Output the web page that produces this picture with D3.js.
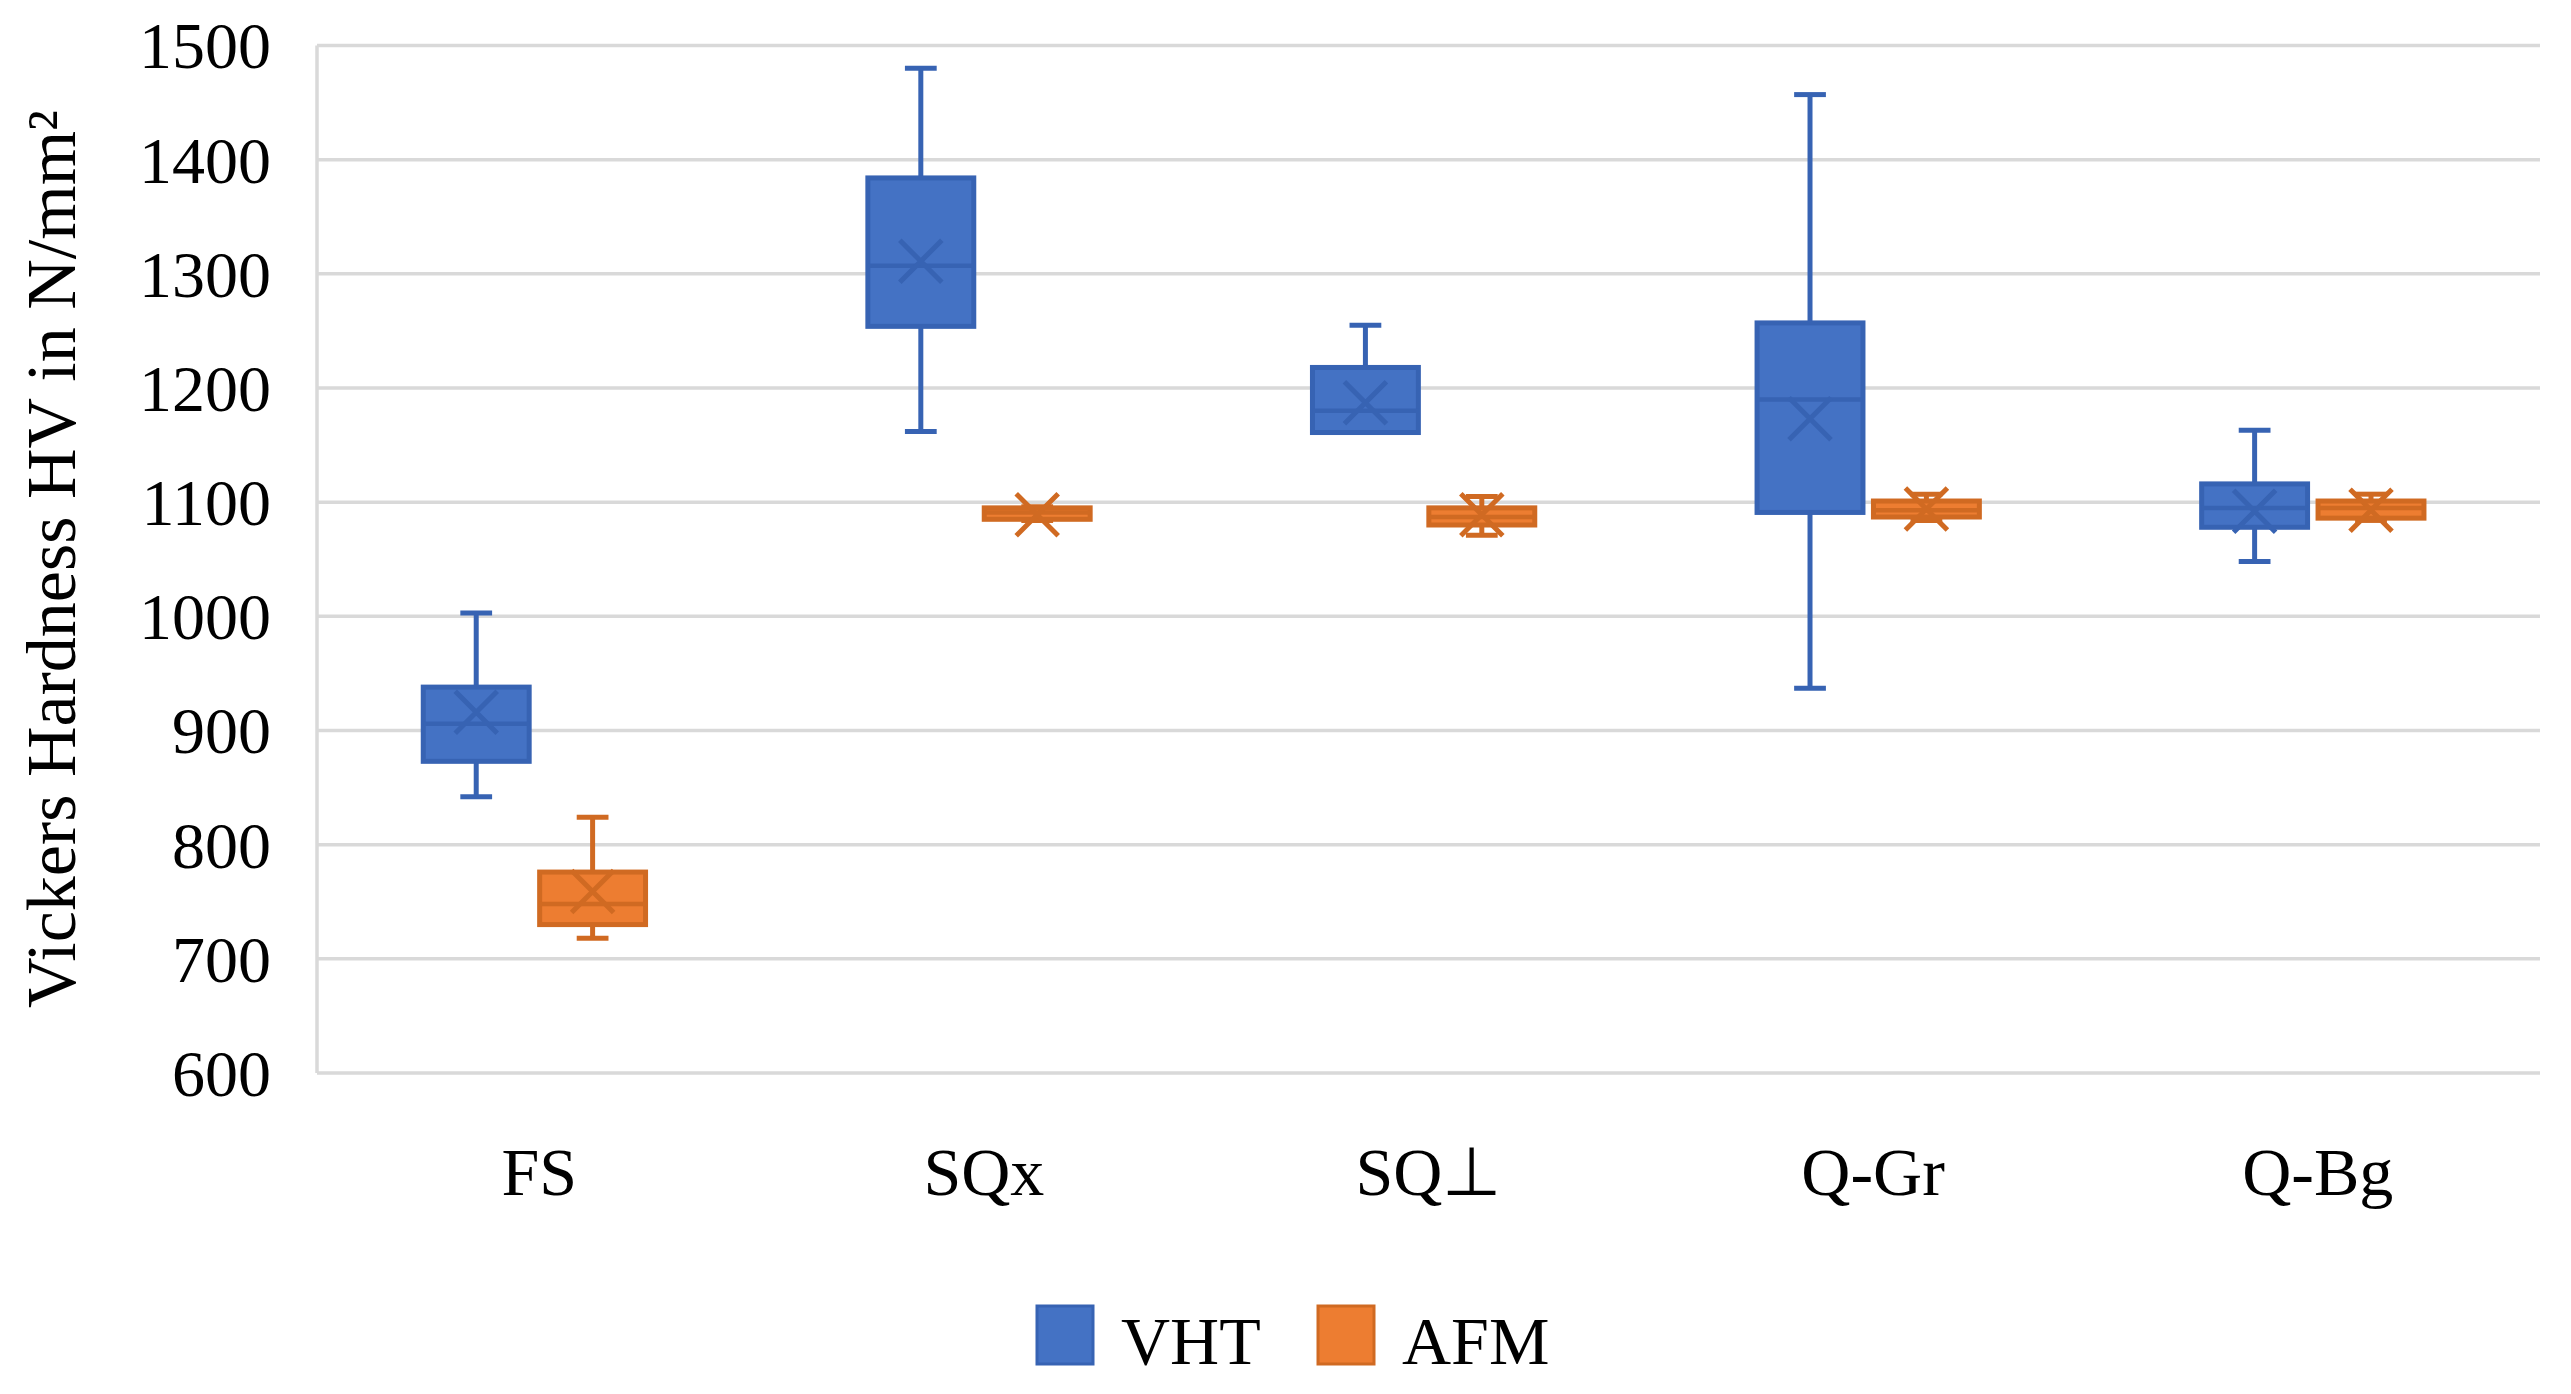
<!DOCTYPE html>
<html>
<head>
<meta charset="utf-8">
<script src="https://cdn.jsdelivr.net/npm/d3@7"></script>
<style>
  body { margin: 0; background: #fff; }
  svg { display: block; }
</style>
</head>
<body>
<svg width="2571" height="1394"></svg>
<script>
const categories = ["FS", "SQx", "SQ\u22A5", "Q-Gr", "Q-Bg"];
const series = ["VHT", "AFM"];

// VHT boxes
const vhtMin    = [842, 1162, 1161, 937, 1048];
const vhtQ1     = [873, 1254, 1161, 1091, 1078];
const vhtMedian = [906, 1307, 1180, 1190, 1095];
const vhtQ3     = [938, 1384, 1218, 1257, 1116];
const vhtMax    = [1003, 1480, 1255, 1457, 1163];
const vhtMean   = [916, 1311, 1187, 1173, 1092];

// AFM boxes
const afmMin    = [718, 1084, 1071, 1084, 1084];
const afmQ1     = [730, 1085, 1080, 1087, 1086];
const afmMedian = [748, 1091, 1087, 1093, 1095];
const afmQ3     = [776, 1095, 1095, 1101, 1101];
const afmMax    = [824, 1096, 1105, 1107, 1107];
const afmMean   = [759, 1089, 1089, 1094, 1093];

const yTicks = [600, 700, 800, 900, 1000, 1100, 1200, 1300, 1400, 1500];

const fills = { VHT: "#4472C4", AFM: "#ED7D31" };
const strokes = { VHT: "#3763B3", AFM: "#D06A22" };
const font = "'Liberation Serif', 'Times New Roman', serif";

const svg = d3.select("svg");

const plotLeft = 317, plotRight = 2540, plotTop = 45.5, plotBottom = 1073;

const y = d3.scaleLinear().domain([600, 1500]).range([plotBottom, plotTop]);
const x0 = d3.scaleBand().domain(categories).range([plotLeft, plotRight]);
const step = x0.step();
// Excel puts the pair slightly left of the category centre
const x1 = d3.scaleBand().domain(series)
    .range([-0.261 * step, 0.239 * step])
    .paddingInner(0.09);

// gridlines
svg.append("g")
    .selectAll("line")
    .data(yTicks)
    .enter().append("line")
    .attr("x1", plotLeft).attr("x2", plotRight)
    .attr("y1", d => y(d)).attr("y2", d => y(d))
    .attr("stroke", "#D9D9D9")
    .attr("stroke-width", 3.5);

svg.append("line")
    .attr("x1", plotLeft).attr("x2", plotLeft)
    .attr("y1", y(1500)).attr("y2", y(600))
    .attr("stroke", "#D9D9D9")
    .attr("stroke-width", 3.5);

// y axis labels
const yAxis = svg.append("g")
    .attr("transform", `translate(${plotLeft - 46},0)`)
    .call(d3.axisLeft(y).tickValues(yTicks).tickFormat(d3.format("d")).tickSize(0).tickPadding(0));
yAxis.select(".domain").remove();
yAxis.selectAll("text")
    .attr("font-family", font)
    .attr("font-size", 66)
    .attr("fill", "#000")
    .attr("dy", "0.34em");

// x axis labels
const xAxis = svg.append("g")
    .attr("transform", `translate(0,${plotBottom})`)
    .call(d3.axisBottom(x0).tickSize(0).tickPadding(0));
xAxis.select(".domain").remove();
xAxis.selectAll("text")
    .attr("font-family", font)
    .attr("font-size", 68)
    .attr("fill", "#000")
    .attr("y", 122)
    .attr("dy", 0);

// y title
svg.append("text")
    .attr("transform", `translate(75,559) rotate(-90)`)
    .attr("text-anchor", "middle")
    .attr("font-family", font)
    .attr("font-size", 70)
    .attr("fill", "#000")
    .text("Vickers Hardness HV in N/mm\u00B2");

// box data
const boxes = [];
categories.forEach((c, i) => {
    boxes.push({ cat: c, s: "VHT", min: vhtMin[i], q1: vhtQ1[i], med: vhtMedian[i], q3: vhtQ3[i], max: vhtMax[i], mean: vhtMean[i] });
    boxes.push({ cat: c, s: "AFM", min: afmMin[i], q1: afmQ1[i], med: afmMedian[i], q3: afmQ3[i], max: afmMax[i], mean: afmMean[i] });
});

const bw = x1.bandwidth();
const capW = bw * 0.3;
const xm = 21;
const lw = 5;

const g = svg.selectAll(".box")
    .data(boxes)
    .enter().append("g")
    .attr("class", "box")
    .attr("transform", d => `translate(${x0(d.cat) + step / 2 + x1(d.s)},0)`);

// whiskers
g.append("line")
    .attr("x1", bw / 2).attr("x2", bw / 2)
    .attr("y1", d => y(d.max)).attr("y2", d => y(d.q3))
    .attr("stroke", d => strokes[d.s]).attr("stroke-width", lw);
g.append("line")
    .attr("x1", bw / 2).attr("x2", bw / 2)
    .attr("y1", d => y(d.q1)).attr("y2", d => y(d.min))
    .attr("stroke", d => strokes[d.s]).attr("stroke-width", lw);
g.append("line")
    .attr("x1", bw / 2 - capW / 2).attr("x2", bw / 2 + capW / 2)
    .attr("y1", d => y(d.max)).attr("y2", d => y(d.max))
    .attr("stroke", d => strokes[d.s]).attr("stroke-width", lw);
g.append("line")
    .attr("x1", bw / 2 - capW / 2).attr("x2", bw / 2 + capW / 2)
    .attr("y1", d => y(d.min)).attr("y2", d => y(d.min))
    .attr("stroke", d => strokes[d.s]).attr("stroke-width", lw);

// boxes
g.append("rect")
    .attr("x", 0)
    .attr("width", bw)
    .attr("y", d => y(d.q3))
    .attr("height", d => y(d.q1) - y(d.q3))
    .attr("fill", d => fills[d.s])
    .attr("stroke", d => strokes[d.s])
    .attr("stroke-width", lw);

// median
g.append("line")
    .attr("x1", 0).attr("x2", bw)
    .attr("y1", d => y(d.med)).attr("y2", d => y(d.med))
    .attr("stroke", d => strokes[d.s]).attr("stroke-width", 4.5);

// mean marker
g.append("path")
    .attr("d", d => {
        const cx = bw / 2, cy = y(d.mean);
        return `M${cx - xm},${cy - xm}L${cx + xm},${cy + xm}M${cx - xm},${cy + xm}L${cx + xm},${cy - xm}`;
    })
    .attr("fill", "none")
    .attr("stroke", d => strokes[d.s])
    .attr("stroke-width", 5);

// legend
const legendX = [1037, 1318];
const legend = svg.selectAll(".legend")
    .data(series)
    .enter().append("g")
    .attr("class", "legend")
    .attr("transform", (d, i) => `translate(${legendX[i]},1306)`);
legend.append("rect")
    .attr("width", 56).attr("height", 58)
    .attr("fill", d => fills[d])
    .attr("stroke", d => strokes[d])
    .attr("stroke-width", 3);
legend.append("text")
    .attr("x", 84).attr("y", 58)
    .attr("font-family", font)
    .attr("font-size", 68)
    .attr("fill", "#000")
    .text(d => d);
</script>
</body>
</html>
